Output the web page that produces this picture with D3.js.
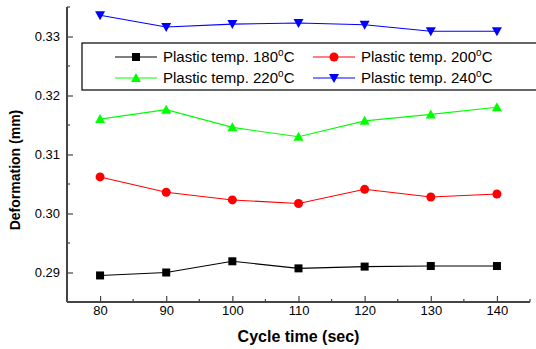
<!DOCTYPE html>
<html><head><meta charset="utf-8">
<script src="https://cdn.jsdelivr.net/npm/d3@7"></script>
<style>body{margin:0;background:#fff}svg{display:block;font-family:"Liberation Sans",Arial,sans-serif}</style>
</head><body><svg id="c" width="536" height="349"></svg>
<script>
const cycleTimes = [80, 90, 100, 110, 120, 130, 140];
const temp180 = [0.2895, 0.2900, 0.2919, 0.2907, 0.2910, 0.2911, 0.2911];
const temp200 = [0.3062, 0.3036, 0.3023, 0.3017, 0.3041, 0.3028, 0.3033];
const temp220 = [0.3160, 0.3176, 0.3146, 0.3130, 0.3157, 0.3168, 0.3180];
const temp240 = [0.3336, 0.3316, 0.3321, 0.3323, 0.3320, 0.3309, 0.3309];
const seriesNames = ["180", "200", "220", "240"];
const xTicks = [80, 90, 100, 110, 120, 130, 140];
const yTicks = [0.29, 0.30, 0.31, 0.32, 0.33];

const series = [
  {name: seriesNames[0], values: temp180, color: "#000000", marker: "square"},
  {name: seriesNames[1], values: temp200, color: "#ff0000", marker: "circle"},
  {name: seriesNames[2], values: temp220, color: "#00ff00", marker: "triangle"},
  {name: seriesNames[3], values: temp240, color: "#0000ff", marker: "down"}
];

const svg = d3.select("#c");
const L = 67, R = 530, T = 7, B = 302;
const x = d3.scaleLinear().domain([75, 145]).range([L, R]);
const y = d3.scaleLinear().domain([0.285, 0.335]).range([B, T]);
const axisColor = "#444";

// minor ticks
const g = svg.append("g");
d3.range(85, 146, 10).forEach(v => g.append("line").attr("x1", x(v)).attr("x2", x(v)).attr("y1", B).attr("y2", B - 3).attr("stroke", axisColor).attr("stroke-width", 1.2));
[0.285, 0.295, 0.305, 0.315, 0.325, 0.335].forEach(v => g.append("line").attr("x1", L).attr("x2", L + 3).attr("y1", y(v)).attr("y2", y(v)).attr("stroke", axisColor).attr("stroke-width", 1.2));

// x axis
const xa = svg.append("g").attr("transform", `translate(0,${B})`)
  .call(d3.axisBottom(x).tickValues(xTicks).tickSize(-6).tickPadding(4).tickFormat(d3.format("d")));
xa.select(".domain").attr("stroke", axisColor).attr("stroke-width", 2).attr("d", `M${L},0H${R}`);
xa.selectAll(".tick line").attr("stroke", axisColor).attr("stroke-width", 1.2);
xa.selectAll("text").attr("font-size", 13).attr("fill", "#000").attr("font-family", "Liberation Sans, Arial, sans-serif");

// y axis
const ya = svg.append("g").attr("transform", `translate(${L},0)`)
  .call(d3.axisLeft(y).tickValues(yTicks).tickSize(-6).tickPadding(7).tickFormat(d3.format(".2f")));
ya.select(".domain").attr("stroke", axisColor).attr("stroke-width", 2).attr("d", `M0,${T}V${B}`);
ya.selectAll(".tick line").attr("stroke", axisColor).attr("stroke-width", 1.2);
ya.selectAll("text").attr("font-size", 13).attr("fill", "#000").attr("font-family", "Liberation Sans, Arial, sans-serif");

// labels
svg.append("text").attr("x", (L + R) / 2).attr("y", 342).attr("text-anchor", "middle")
  .attr("font-size", 16).attr("font-weight", "bold").text("Cycle time (sec)");
svg.append("text").attr("transform", `translate(20,170) rotate(-90)`).attr("text-anchor", "middle")
  .attr("font-size", 14).attr("font-weight", "bold").text("Deformation (mm)");

function drawMarker(sel, type, color, cx, cy) {
  if (type === "square") sel.append("rect").attr("x", cx - 4).attr("y", cy - 4).attr("width", 8).attr("height", 8).attr("fill", color);
  else if (type === "circle") sel.append("circle").attr("cx", cx).attr("cy", cy).attr("r", 4.5).attr("fill", color);
  else if (type === "triangle") sel.append("path").attr("d", `M${cx},${cy - 5}L${cx + 5},${cy + 4}L${cx - 5},${cy + 4}Z`).attr("fill", color);
  else sel.append("path").attr("d", `M${cx},${cy + 5}L${cx + 5},${cy - 4}L${cx - 5},${cy - 4}Z`).attr("fill", color);
}

const line = d3.line().x((d, i) => x(cycleTimes[i])).y(d => y(d));
series.forEach(s => {
  const gs = svg.append("g");
  gs.append("path").attr("d", line(s.values)).attr("fill", "none").attr("stroke", s.color).attr("stroke-width", 1.1);
  s.values.forEach((v, i) => drawMarker(gs, s.marker, s.color, x(cycleTimes[i]), y(v)));
});

// legend
const lg = svg.append("g");
lg.append("rect").attr("x", 82).attr("y", 43).attr("width", 470).attr("height", 47).attr("fill", "#fff").attr("stroke", "#000").attr("stroke-width", 1.2);
const cols = [115, 313], rows = [57, 78];
series.forEach((s, i) => {
  const cx = cols[i % 2], cy = rows[Math.floor(i / 2)];
  lg.append("line").attr("x1", cx).attr("x2", cx + 42).attr("y1", cy).attr("y2", cy).attr("stroke", s.color).attr("stroke-width", 1.1);
  drawMarker(lg, s.marker, s.color, cx + 21, cy);
  const t = lg.append("text").attr("x", cx + 48).attr("y", cy + 5).attr("font-size", 15);
  t.append("tspan").text(`Plastic temp. ${s.name}`);
  t.append("tspan").attr("dy", -6).attr("font-size", 10).text("o");
  t.append("tspan").attr("dy", 6).text("C");
});
</script></body></html>
